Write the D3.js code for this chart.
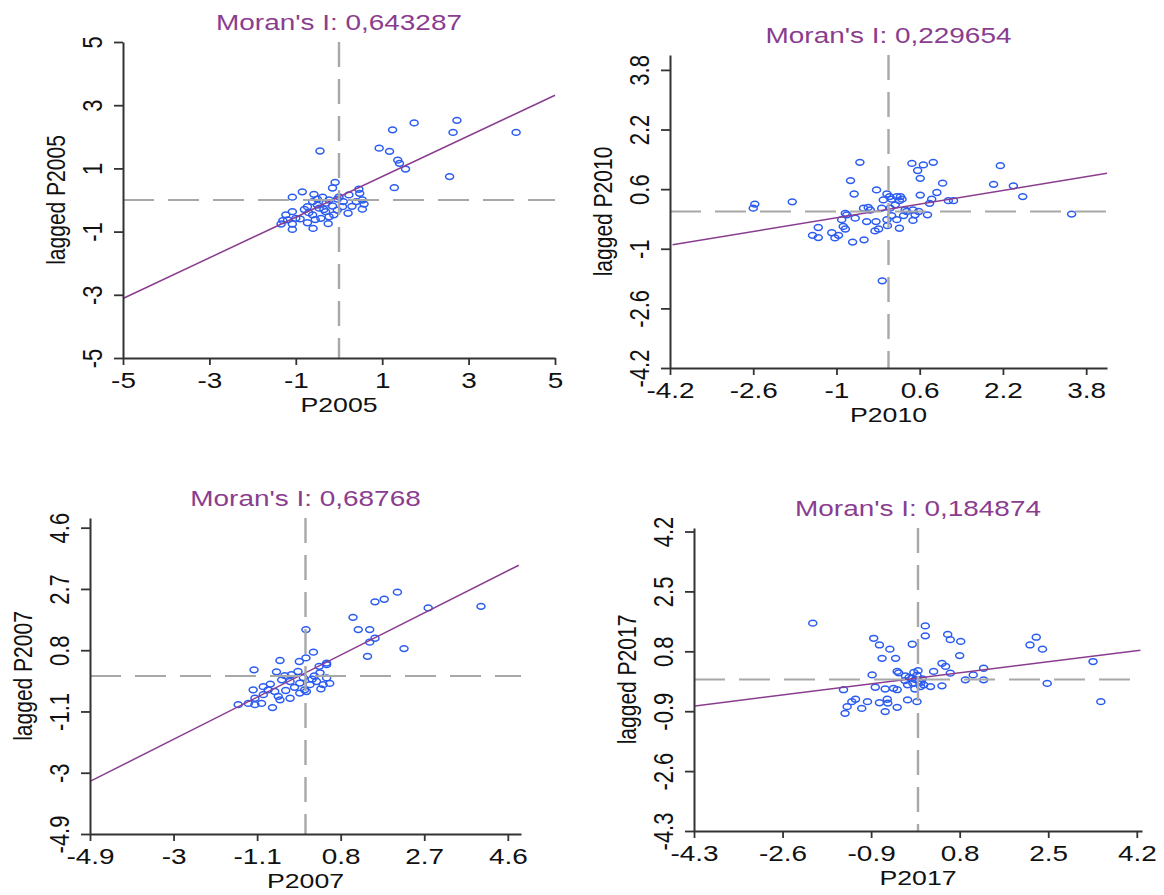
<!DOCTYPE html>
<html>
<head>
<meta charset="utf-8">
<script src="https://cdn.jsdelivr.net/npm/d3@7"></script>
<style>
  body { margin: 0; background: #fff; }
</style>
</head>
<body>
<svg id="chart" width="1164" height="895"></svg>
<script>
// Four Moran scatter plots (value vs spatially lagged value)

////////////////////////////////////////////////////////////////////////
// Data

const titles = ["Moran's I: 0,643287", "Moran's I: 0,229654",
                "Moran's I: 0,68768", "Moran's I: 0,184874"];
const varNames = ["P2005", "P2010", "P2007", "P2017"];
const moranI = [0.643287, 0.229654, 0.68768, 0.184874];
const intercepts = [0.1, 0.06, 0.1, 0.04];
const lineSpan = [[-5, 5], [-4.15, 4.2], [-4.9, 4.85], [-4.28, 4.27]];

const limits = [[-5, 5], [-4.2, 4.2], [-4.9, 4.9], [-4.3, 4.3]];
const ticks2005 = [-5, -3, -1, 1, 3, 5];
const ticks2010 = [-4.2, -2.6, -1, 0.6, 2.2, 3.8];
const ticks2007 = [-4.9, -3, -1.1, 0.8, 2.7, 4.6];
const ticks2017 = [-4.3, -2.6, -0.9, 0.8, 2.5, 4.2];

// [value, lagged value]
const pts2005 = [
  [-0.44,1.55],[1.24,2.22],[1.74,2.44],[2.73,2.52],[2.64,2.14],[4.10,2.14],[0.93,1.64],
  [1.17,1.54],[1.36,1.26],[1.40,1.16],[1.54,0.98],[2.56,0.74],[1.28,0.39],
  [-0.09,0.56],[-0.15,0.38],[0.46,0.34],[0.48,0.21],[0.23,0.16],[-0.85,0.26],[-1.08,0.09],
  [-0.58,0.18],[-0.50,0.03],[-0.38,0.09],[-0.04,0.03],[-0.61,-0.05],[-0.23,0.0],[0.40,-0.05],
  [0.58,-0.13],[0.54,-0.29],[-0.73,-0.21],[-0.46,-0.26],[-0.15,-0.19],[0.08,-0.21],[0.21,-0.42],
  [-0.31,-0.37],[-0.61,-0.47],[-0.12,-0.47],[-1.08,-0.37],[-1.23,-0.47],[-1.0,-0.58],[-0.42,-0.58],
  [-1.19,-0.63],[-1.34,-0.76],[-1.08,-0.76],[-0.73,-0.72],[-1.08,-0.93],[-0.60,-0.90],[-0.23,-0.53],
  [-0.04,-0.32],[-0.50,-0.16],[0.54,0.0],[-0.3,-0.1],[-0.7,-0.4],[-0.9,-0.6],[0.1,-0.05],
  [-0.35,-0.3],[0.3,-0.2],[-0.8,-0.3],[0.0,0.1],[-1.3,-0.65],[-0.25,-0.75],[-0.55,-0.62]
];
const pts2010 = [
  [-2.60,0.09],[-2.57,0.20],[-1.85,0.26],[-0.55,1.32],[-0.73,0.83],[-0.66,0.47],[-0.23,0.58],
  [0.45,1.29],[0.67,1.25],[0.86,1.32],[0.56,1.10],[0.61,0.89],[1.04,0.76],[2.15,1.23],
  [2.02,0.73],[2.40,0.69],[2.58,0.40],[3.52,-0.07],[-0.12,-1.86],[0.61,0.44],[0.93,0.51],
  [0.83,0.33],[0.79,0.22],[1.15,0.29],[1.25,0.29],[0.75,-0.09],[0.47,-0.24],[-0.03,0.47],
  [0.16,0.40],[0.26,0.33],[-0.10,0.31],[0.13,0.18],[0.32,0.04],[0.47,0.04],[0.03,0.09],
  [-0.13,0.09],[-0.48,0.09],[-0.35,0.04],[-0.80,-0.09],[-0.64,-0.18],[-0.90,-0.22],[-0.42,-0.27],
  [-0.24,-0.27],[-0.03,-0.22],[0.06,-0.11],[0.16,-0.22],[0.29,-0.11],[0.51,-0.09],[-0.87,-0.40],
  [-0.83,-0.47],[-1.35,-0.43],[-1.09,-0.57],[-0.96,-0.64],[-1.03,-0.71],[-1.46,-0.64],[-1.35,-0.70],
  [-0.69,-0.82],[-0.47,-0.76],[-0.26,-0.52],[-0.19,-0.47],[-0.02,-0.38],[0.21,-0.45],
  [0.02,0.40],[0.06,0.33],[0.23,0.40],[-0.39,0.11],[0.35,0.0],[0.58,0.0],[-0.83,-0.05],[0.21,0.29]
];
const pts2007 = [
  [0.01,1.44],[1.08,1.82],[1.58,2.30],[1.79,2.38],[2.09,2.60],[2.79,2.11],[3.99,2.16],
  [1.20,1.44],[1.46,1.44],[1.46,1.05],[1.58,1.17],[2.24,0.85],[1.41,0.61],[0.18,0.74],
  [0.01,0.56],[-0.14,0.45],[-0.58,0.48],[-1.17,0.19],[0.31,0.30],[0.48,0.35],[-0.66,0.13],
  [-0.47,0.01],[-0.32,0.04],[-0.17,0.14],[0.33,0.10],[0.48,-0.06],[0.55,-0.23],[0.40,-0.27],
  [0.25,-0.17],[-0.54,-0.12],[-0.35,-0.17],[-0.13,-0.22],[0.10,-0.27],[-0.02,-0.43],[-1.19,-0.43],
  [-0.96,-0.33],[-0.85,-0.43],[-0.70,-0.48],[-1.15,-0.69],[-0.96,-0.58],[-0.62,-0.63],[-0.35,-0.69],
  [-0.13,-0.53],[0.02,-0.48],[-1.53,-0.89],[-1.30,-0.85],[-1.15,-0.89],[-1.0,-0.85],[-0.75,-0.98],
  [-0.58,-0.74],[0.48,0.40],[-0.05,-0.05],[0.2,0.0],[-0.25,-0.35],[-0.8,-0.25],[0.15,-0.1],
  [-0.45,-0.45],[0.35,-0.4]
];
const pts2017 = [
  [-2.02,1.60],[0.14,1.52],[0.14,1.24],[0.57,1.28],[0.62,1.13],[0.82,1.08],[2.27,1.20],
  [2.15,0.98],[2.39,0.86],[3.36,0.51],[3.51,-0.63],[2.48,-0.11],[-0.85,1.17],[-0.74,0.98],
  [-0.54,0.86],[-0.11,1.0],[-0.69,0.60],[-0.43,0.60],[0.80,0.68],[-0.88,0.13],[-0.40,0.23],
  [0.46,0.46],[0.53,0.37],[0.30,0.23],[0.62,0.18],[1.26,0.32],[0.91,-0.01],[1.06,0.13],
  [1.26,-0.01],[-1.43,-0.29],[-0.82,-0.22],[-0.63,-0.27],[-0.47,-0.25],[-0.40,-0.29],[-1.20,-0.56],
  [-1.27,-0.63],[-1.36,-0.77],[-1.40,-0.96],[-0.97,-0.63],[-1.08,-0.82],[-0.74,-0.66],[-0.59,-0.56],
  [-0.58,-0.67],[-0.63,-0.91],[-0.40,-0.79],[-0.20,-0.58],[-0.02,-0.63],[0.11,-0.15],[0.24,-0.20],
  [0.46,-0.18],[-0.17,0.06],[-0.12,0.03],[-0.05,0.0],[0.02,-0.05],[-0.10,-0.10],[-0.20,-0.15],
  [0.05,-0.20],[-0.06,-0.27],[0.08,0.02],[-0.25,-0.03],[0.06,-0.08],[-0.02,0.12],[-0.08,0.20],
  [0.0,0.25],[-0.37,0.19],[-0.24,0.10]
];

const allTicks = [ticks2005, ticks2010, ticks2007, ticks2017];
const allPts = [pts2005, pts2010, pts2007, pts2017];

////////////////////////////////////////////////////////////////////////
// Layout: pixel box of each plot region (top-left, top-right, bottom-left, bottom-right)

const boxes = [
  {left: 123, right: 555, top: 42, bottom: 358},
  {left: 670, right: 1107, top: 55, bottom: 368},
  {left: 90, right: 521, top: 518, bottom: 834},
  {left: 694, right: 1142, top: 528, bottom: 831}
];

// the picture is stretched horizontally
const sx = 1.27;
const font = "'Liberation Sans', Arial, Helvetica, sans-serif";
const purple = "#8a3d8f";
const blue = "#2b5cf0";
const axisCol = "#333";
const dashCol = "#a8a8a8";

let svg = d3.select("#chart");

function drawPanel(i) {
  let b = boxes[i];
  let xScale = d3.scaleLinear().domain(limits[i]).range([b.left, b.right]);
  let yScale = d3.scaleLinear().domain(limits[i]).range([b.bottom, b.top]);
  let g = svg.append("g");

  // points
  g.append("g").selectAll("ellipse")
    .data(allPts[i]).enter()
    .append("ellipse")
    .attr("cx", d => xScale(d[0]))
    .attr("cy", d => yScale(d[1]))
    .attr("rx", 4.0)
    .attr("ry", 2.9)
    .attr("fill", "none")
    .attr("stroke", blue)
    .attr("stroke-width", 1.5);

  // regression line, slope = Moran's I
  let span = lineSpan[i];
  g.append("line")
    .attr("x1", xScale(span[0])).attr("y1", yScale(intercepts[i] + moranI[i] * span[0]))
    .attr("x2", xScale(span[1])).attr("y2", yScale(intercepts[i] + moranI[i] * span[1]))
    .attr("stroke", purple)
    .attr("stroke-width", 1.5);

  // dashed lines at the means
  g.append("line")
    .attr("x1", xScale.range()[0]).attr("x2", xScale.range()[1])
    .attr("y1", yScale(0)).attr("y2", yScale(0))
    .attr("stroke", dashCol).attr("stroke-width", 2)
    .attr("stroke-dasharray", "31,14");
  g.append("line")
    .attr("x1", xScale(0)).attr("x2", xScale(0))
    .attr("y1", yScale.range()[1]).attr("y2", yScale.range()[0])
    .attr("stroke", dashCol).attr("stroke-width", 2.4)
    .attr("stroke-dasharray", "25,12");

  // axes
  let xAxis = g.append("g")
    .attr("transform", "translate(0," + b.bottom + ")")
    .call(d3.axisBottom(xScale).tickValues(allTicks[i])
          .tickSize(7).tickSizeOuter(0).tickFormat(d => String(d)));
  let yAxis = g.append("g")
    .attr("transform", "translate(" + b.left + ",0)")
    .call(d3.axisLeft(yScale).tickValues(allTicks[i])
          .tickSize(9).tickSizeOuter(0).tickFormat(d => String(d)));

  [xAxis, yAxis].forEach(a => {
    a.attr("font-family", font).attr("font-size", 22);
    a.select(".domain").attr("stroke", axisCol).attr("stroke-width", 2);
    a.selectAll(".tick line").attr("stroke", axisCol).attr("stroke-width", 1.8);
    a.selectAll(".tick text").attr("fill", "#111");
  });

  xAxis.selectAll(".tick text")
    .attr("y", 30).attr("dy", null)
    .attr("transform", "scale(" + sx + ",1)");

  yAxis.selectAll(".tick text")
    .attr("x", 0).attr("dy", null)
    .attr("text-anchor", "middle")
    .attr("transform", "translate(-21,0) scale(" + sx + ",1) rotate(-90)");

  let cx = (b.left + b.right) / 2;
  let cy = (b.top + b.bottom) / 2;

  // title
  g.append("text")
    .attr("transform", "translate(" + cx + "," + (b.top - 12) + ") scale(" + sx + ",1)")
    .attr("text-anchor", "middle")
    .attr("font-family", font).attr("font-size", 22)
    .attr("fill", purple)
    .text(titles[i]);

  // axis labels
  g.append("text")
    .attr("transform", "translate(" + cx + "," + (b.bottom + 54) + ") scale(" + sx + ",1)")
    .attr("text-anchor", "middle")
    .attr("font-family", font).attr("font-size", 21)
    .attr("fill", "#111")
    .text(varNames[i]);

  g.append("text")
    .attr("transform", "translate(" + (b.left - 58) + "," + cy + ") scale(" + sx + ",1) rotate(-90)")
    .attr("text-anchor", "middle")
    .attr("font-family", font).attr("font-size", 21)
    .attr("fill", "#111")
    .text("lagged " + varNames[i]);
}

for (let i = 0; i < 4; i++) drawPanel(i);
</script>
</body>
</html>
